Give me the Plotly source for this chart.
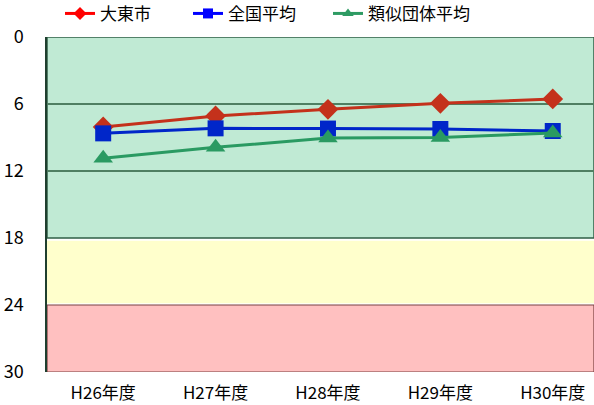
import plotly.graph_objects as go

categories = ["H26年度", "H27年度", "H28年度", "H29年度", "H30年度"]
daito = [8.05, 7.07, 6.48, 5.94, 5.55]
national = [8.63, 8.18, 8.2, 8.24, 8.42]
similar = [10.85, 9.88, 9.05, 9.0, 8.6]
y_ticks = [0, 6, 12, 18, 24, 30]

series = [
    ("大東市", daito, "#C4311B", "#FF0000", "diamond", 16, "legend", 0.0238),
    ("全国平均", national, "#0026C9", "#0000FF", "square", 16, "legend2", 0.2578),
    ("類似団体平均", similar, "#2A9A62", "#2E9B63", "triangle-up", 17, "legend3", 0.5137),
]

fig = go.Figure()
for name, vals, col, lcol, sym, sz, lg, lx in series:
    fig.add_trace(go.Scatter(x=categories, y=vals, mode="lines+markers", name=name,
                             line=dict(color=col, width=3),
                             marker=dict(symbol=sym, size=sz, color=col),
                             showlegend=False, cliponaxis=False))
legends = {}
for name, vals, col, lcol, sym, sz, lg, lx in series:
    fig.add_trace(go.Scatter(x=[None], y=[None], mode="lines+markers", name=name,
                             line=dict(color=lcol, width=3), legend=lg,
                             marker=dict(symbol=sym, size=10, color=lcol)))
    legends[lg] = dict(orientation="h", x=lx, xanchor="left", y=1.069, yanchor="middle",
                       font=dict(size=17), itemwidth=30, bgcolor="rgba(0,0,0,0)")

# background bands
fig.add_shape(type="rect", xref="paper", yref="y", x0=0, x1=1, y0=0, y1=18,
              fillcolor="#C0EAD4", line=dict(color="#2F5F45", width=1.5), layer="below")
fig.add_shape(type="rect", xref="paper", yref="y", x0=0, x1=1, y0=18.25, y1=23.85,
              fillcolor="#FFFFCC", line=dict(width=0), layer="below")
fig.add_shape(type="rect", xref="paper", yref="y", x0=0, x1=1, y0=24, y1=30,
              fillcolor="#FFC0C0", line=dict(color="#7A4040", width=1.2), layer="below")
for g in [6, 12]:
    fig.add_shape(type="line", xref="paper", yref="y", x0=0, x1=1, y0=g, y1=g,
                  line=dict(color="#4F7F62", width=2), layer="below")

fig.update_layout(
    width=594, height=405,
    margin=dict(l=47, r=0, t=37, b=33, autoexpand=False),
    paper_bgcolor="white", plot_bgcolor="white",
    font=dict(family="Noto Sans CJK JP", color="#000000"),
    showlegend=True,
    xaxis=dict(type="category", range=[-0.5, 4.367], showgrid=False, zeroline=False,
               showline=False, tickfont=dict(size=17), ticks="", ticklabelstandoff=9,
               automargin=False),
    yaxis=dict(range=[30, 0], tickvals=y_ticks, ticktext=[str(v) for v in y_ticks],
               showgrid=False, zeroline=False, showline=True, linecolor="#1F3F2F",
               linewidth=1.5, tickfont=dict(size=18), ticks="", ticklabelstandoff=18,
               automargin=False),
    **legends,
)

fig.write_html("out.html", config={"displayModeBar": False},
               post_script="document.body.style.margin='0';document.body.style.overflow='hidden';")
